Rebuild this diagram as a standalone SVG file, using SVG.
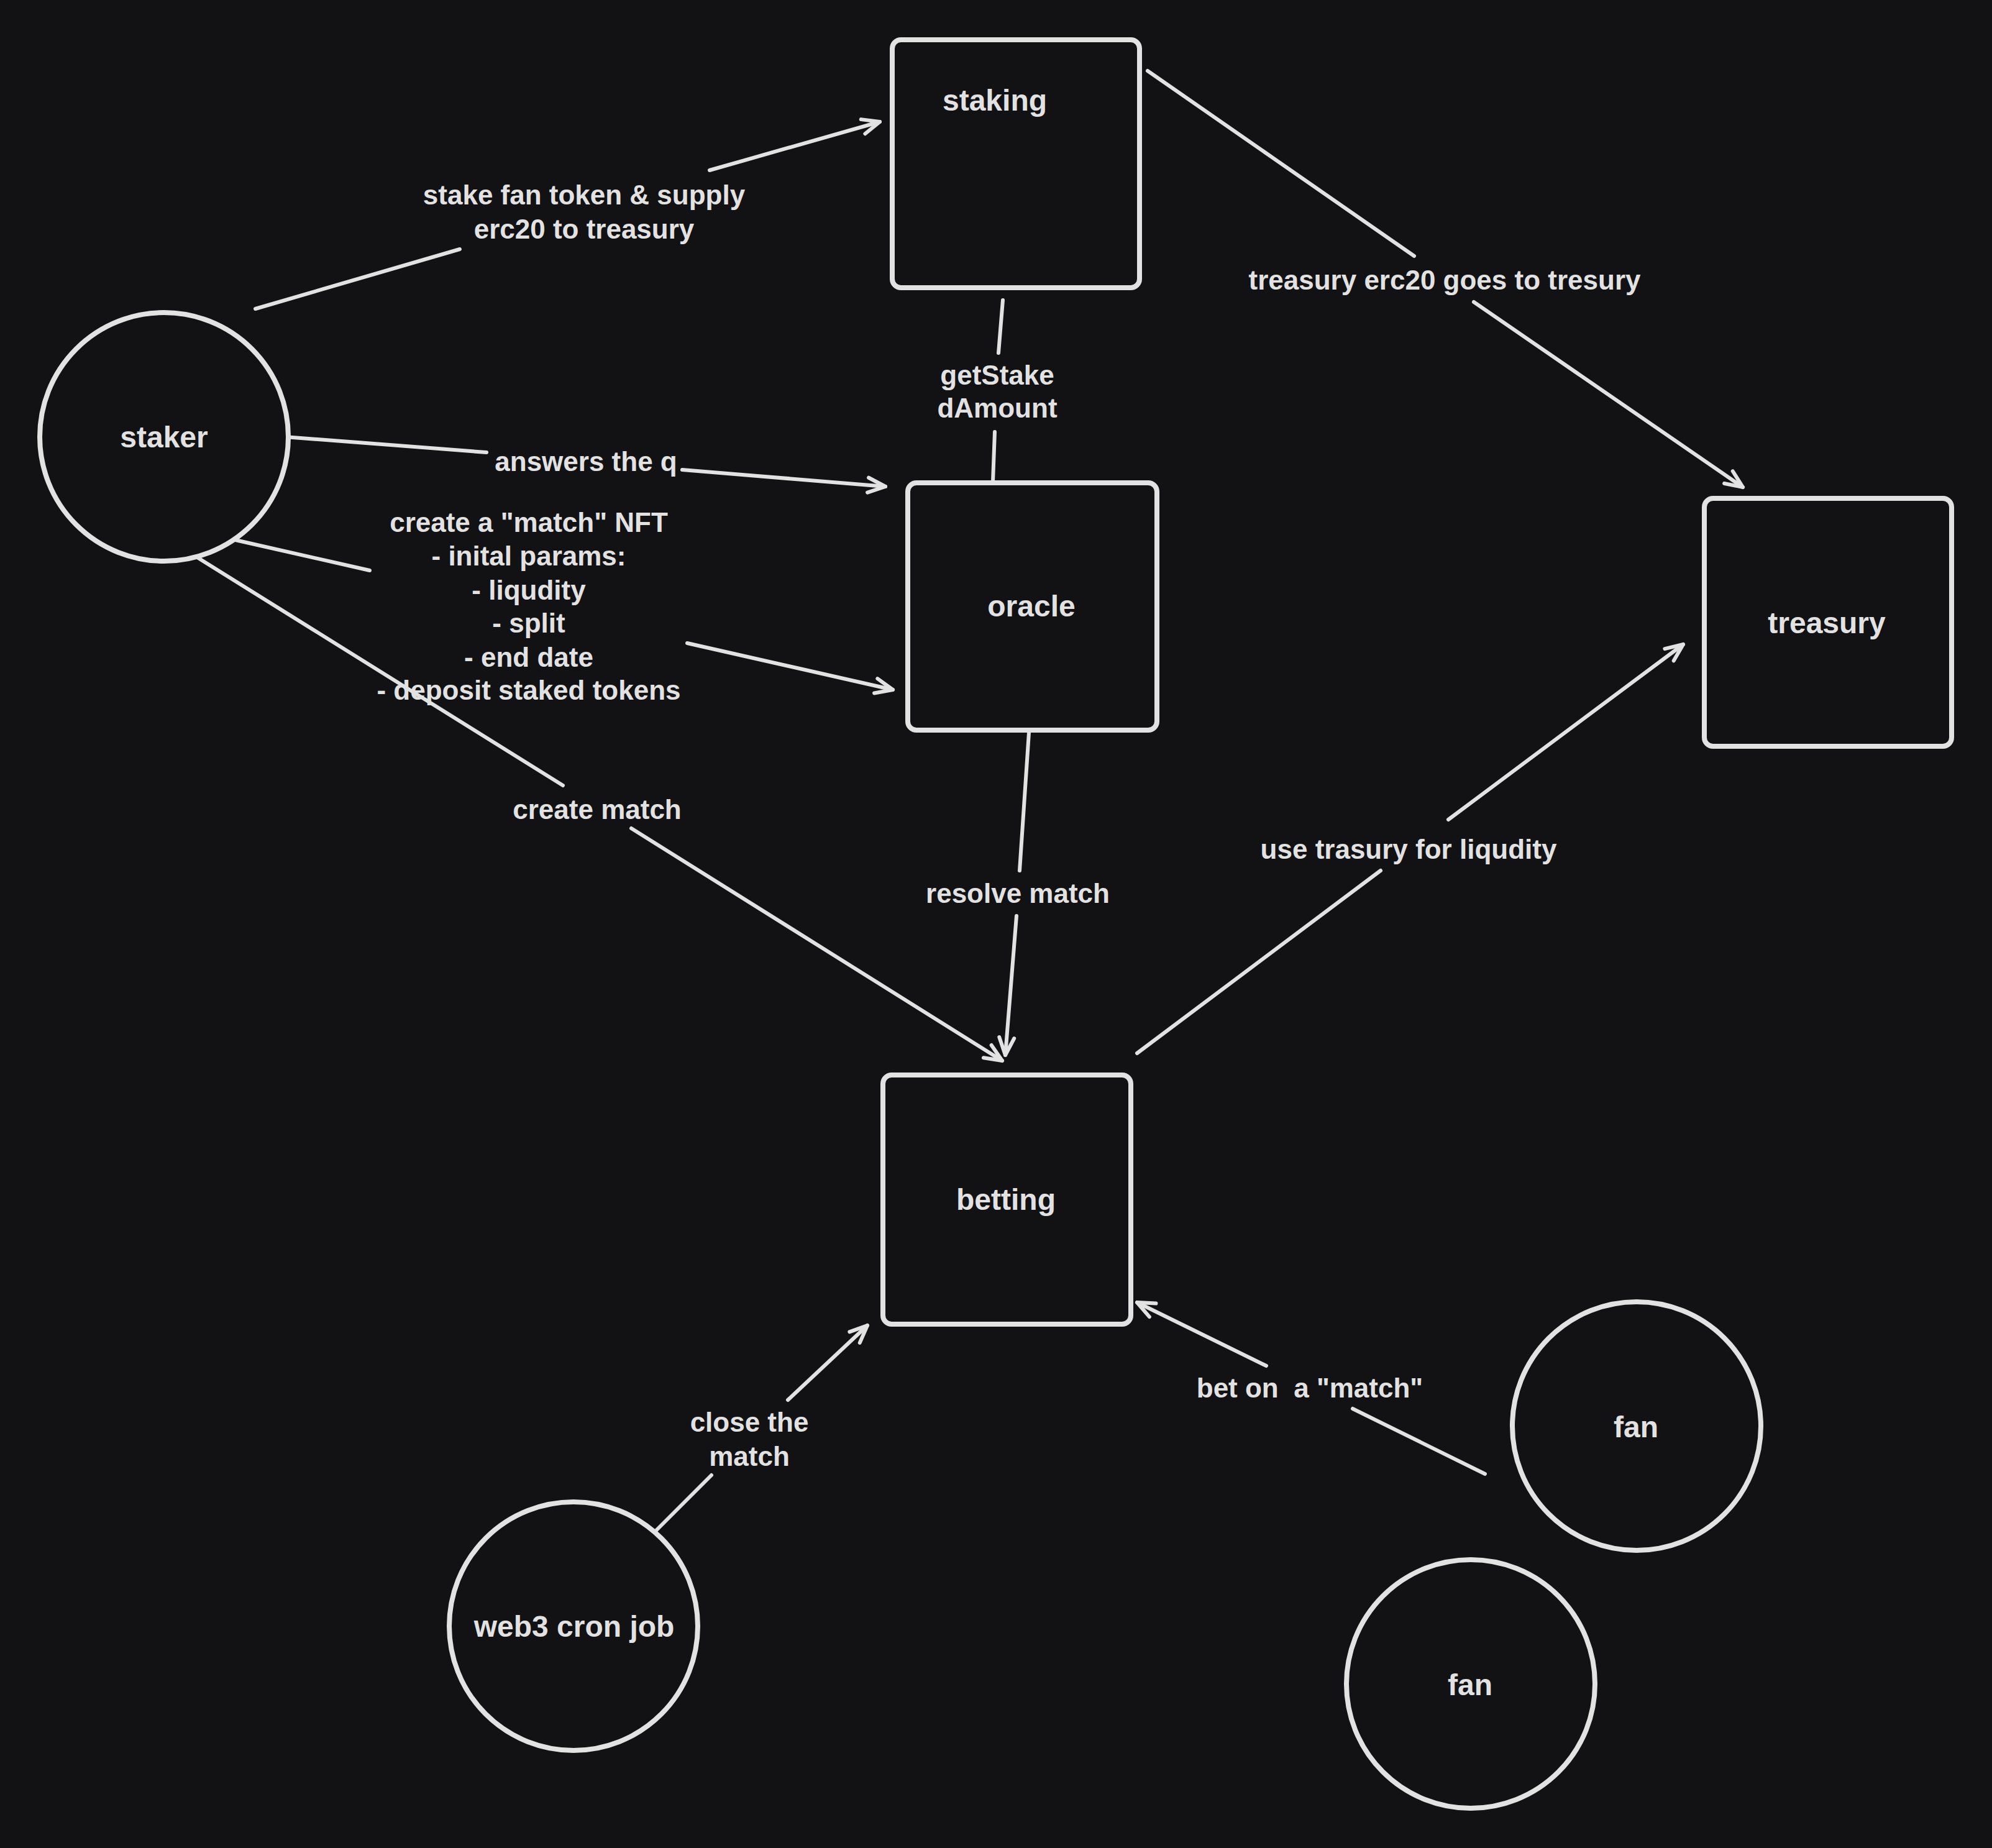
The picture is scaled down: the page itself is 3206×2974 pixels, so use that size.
<svg xmlns="http://www.w3.org/2000/svg" width="3206" height="2974" viewBox="0 0 3206 2974">
<style>
.shape{fill:#121214;stroke:#e2e2e2;stroke-width:8}
.edge{fill:none;stroke:#e2e2e2;stroke-width:6;stroke-linecap:round}
.nl{font-family:"Liberation Sans",Arial,sans-serif;font-weight:bold;font-size:48px;fill:#e2e2e2;text-anchor:middle;dominant-baseline:central}
.el{font-family:"Liberation Sans",Arial,sans-serif;font-weight:bold;font-size:44px;fill:#e2e2e2;text-anchor:middle;dominant-baseline:central;white-space:pre}
</style>
<defs>
<marker id="ah" viewBox="-40 -20 50 40" refX="0" refY="0" markerWidth="50" markerHeight="40" markerUnits="userSpaceOnUse" orient="auto" overflow="visible">
<path d="M-28,-12 L0,0 L-28,12" fill="none" stroke="#e2e2e2" stroke-width="6" stroke-linecap="round" stroke-linejoin="round"/>
</marker>
</defs>
<rect x="0" y="0" width="3206" height="2974" fill="#121214"/>
<g id="connectors">
<g id="e-staker-staking">
<line class="edge" x1="411" y1="497" x2="740" y2="401"/>
<line class="edge" x1="1142" y1="274" x2="1416" y2="196" marker-end="url(#ah)"/>
<text class="el" x="940" y="313">stake fan token &amp; supply</text>
<text class="el" x="940" y="368">erc20 to treasury</text>
</g>
<g id="e-staking-treasury">
<line class="edge" x1="1847" y1="114" x2="2276" y2="412"/>
<line class="edge" x1="2372" y1="486" x2="2805" y2="784" marker-end="url(#ah)"/>
<text class="el" x="2325" y="450">treasury erc20 goes to tresury</text>
</g>
<g id="e-staking-oracle">
<line class="edge" x1="1614" y1="483" x2="1607" y2="568"/>
<line class="edge" x1="1601" y1="695" x2="1598" y2="775"/>
<text class="el" x="1605" y="603">getStake</text>
<text class="el" x="1605" y="656">dAmount</text>
</g>
<g id="e-staker-oracle-answers">
<line class="edge" x1="458" y1="703" x2="783" y2="728"/>
<line class="edge" x1="1098" y1="756" x2="1425" y2="783" marker-end="url(#ah)"/>
<text class="el" x="943" y="742">answers the q</text>
</g>
<g id="e-staker-oracle-nft">
<line class="edge" x1="370" y1="867" x2="595" y2="918"/>
<line class="edge" x1="1106" y1="1035" x2="1437" y2="1110" marker-end="url(#ah)"/>
</g>
<g id="e-staker-betting">
<line class="edge" x1="311" y1="893" x2="906" y2="1264"/>
<line class="edge" x1="1016" y1="1333" x2="1613" y2="1707" marker-end="url(#ah)"/>
<text class="el" x="961" y="1302">create match</text>
</g>
<g id="e-nft-label">
<text class="el" x="851" y="840">create a "match" NFT</text>
<text class="el" x="851" y="894">- inital params:</text>
<text class="el" x="851" y="949">- liqudity</text>
<text class="el" x="851" y="1002">- split</text>
<text class="el" x="851" y="1057">- end date</text>
<text class="el" x="851" y="1110">- deposit staked tokens</text>
</g>
<g id="e-oracle-betting">
<line class="edge" x1="1656" y1="1179" x2="1641" y2="1401"/>
<line class="edge" x1="1636" y1="1474" x2="1618" y2="1698" marker-end="url(#ah)"/>
<text class="el" x="1638" y="1437">resolve match</text>
</g>
<g id="e-betting-treasury">
<line class="edge" x1="1830" y1="1695" x2="2222" y2="1401"/>
<line class="edge" x1="2331" y1="1319" x2="2709" y2="1037" marker-end="url(#ah)"/>
<text class="el" x="2267" y="1366">use trasury for liqudity</text>
</g>
<g id="e-cron-betting">
<line class="edge" x1="1055" y1="2464" x2="1145" y2="2374"/>
<line class="edge" x1="1268" y1="2253" x2="1396" y2="2133" marker-end="url(#ah)"/>
<text class="el" x="1206" y="2288">close the</text>
<text class="el" x="1206" y="2343">match</text>
</g>
<g id="e-fan-betting">
<line class="edge" x1="2390" y1="2372" x2="2177" y2="2267"/>
<line class="edge" x1="2038" y1="2198" x2="1830" y2="2096" marker-end="url(#ah)"/>
<text class="el" x="2108" y="2233">bet on  a "match"</text>
</g>
</g>
<g id="staking"><rect class="shape" x="1436" y="64" width="398" height="399" rx="14"/><text class="nl" x="1601" y="161">staking</text></g>
<g id="oracle"><rect class="shape" x="1461" y="777" width="401" height="398" rx="14"/><text class="nl" x="1660" y="975">oracle</text></g>
<g id="treasury"><rect class="shape" x="2743" y="802" width="398" height="399" rx="14"/><text class="nl" x="2940" y="1002">treasury</text></g>
<g id="betting"><rect class="shape" x="1421" y="1730" width="399" height="401" rx="14"/><text class="nl" x="1619" y="1930">betting</text></g>
<g id="staker"><circle class="shape" cx="264" cy="703" r="200"/><text class="nl" x="264" y="703">staker</text></g>
<g id="fan1"><circle class="shape" cx="2634" cy="2295" r="200"/><text class="nl" x="2633" y="2296">fan</text></g>
<g id="fan2"><circle class="shape" cx="2367" cy="2710" r="200"/><text class="nl" x="2366" y="2711">fan</text></g>
<g id="cron"><circle class="shape" cx="923" cy="2617" r="200"/><text class="nl" x="924" y="2617">web3 cron job</text></g>
</svg>
